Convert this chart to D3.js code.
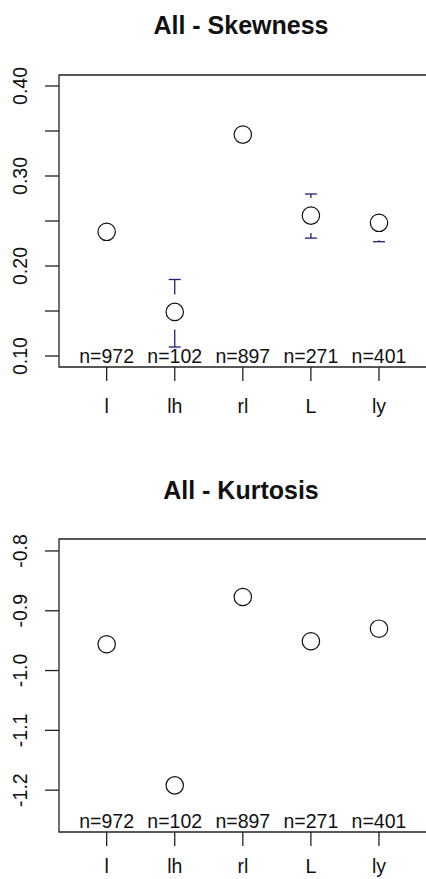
<!DOCTYPE html>
<html>
<head>
<meta charset="utf-8">
<script src="https://cdn.jsdelivr.net/npm/d3@7"></script>
<style>
  html, body { margin: 0; padding: 0; background: #fff; overflow: hidden; }
  svg { display: block; }
  svg text { font-family: "Liberation Sans", Arial, sans-serif; fill: #111; }
</style>
</head>
<body>
<div id="chart"></div>
<script>
// categories and counts shared by both panels
const categories = ["l", "lh", "rl", "L", "ly"];
const counts = ["n=972", "n=102", "n=897", "n=271", "n=401"];

// skewness means and CI
const skewMean = [0.238, 0.149, 0.346, 0.256, 0.248];
const skewLower = [0.236, 0.110, 0.344, 0.231, 0.227];
const skewUpper = [0.240, 0.185, 0.348, 0.280, 0.267];
const skewTicks = [0.10, 0.15, 0.20, 0.25, 0.30, 0.35, 0.40];
const skewLabels = ["0.10", "", "0.20", "", "0.30", "", "0.40"];

// kurtosis means
const kurtMean = [-0.956, -1.192, -0.877, -0.951, -0.930];
const kurtTicks = [-1.2, -1.1, -1.0, -0.9, -0.8];
const kurtLabels = ["-1.2", "-1.1", "-1.0", "-0.9", "-0.8"];

const W = 426, H = 879;
const svg = d3.select("#chart").append("svg")
  .attr("width", W).attr("height", H);

const xScale = d3.scaleLinear().domain([0.3, 5.72]).range([59, 428]);
const gap = 17.5, capW = 6, ciColor = "#1f1f7a";

function panel(opts) {
  const g = svg.append("g");
  const y = d3.scaleLinear().domain(opts.ydom).range([opts.bottom, opts.top]);
  const x0 = xScale.range()[0], x1 = xScale.range()[1];

  // title
  g.append("text")
    .attr("x", 241).attr("y", opts.titleY)
    .attr("text-anchor", "middle")
    .style("font-size", "25px").style("font-weight", "bold")
    .text(opts.title);

  // box (right side falls off the canvas)
  g.append("path")
    .attr("d", `M${x1},${opts.top}H${x0}V${opts.bottom}H${x1}`)
    .attr("fill", "none").attr("stroke", "#222").attr("stroke-width", 1.3);

  // y axis ticks + rotated labels
  opts.ticks.forEach((t, i) => {
    g.append("line")
      .attr("x1", x0 - 14).attr("x2", x0)
      .attr("y1", y(t)).attr("y2", y(t))
      .attr("stroke", "#222").attr("stroke-width", 1.3);
    if (opts.labels[i]) {
      g.append("text")
        .attr("transform", `translate(27,${y(t)}) rotate(-90)`)
        .attr("text-anchor", "middle")
        .style("font-size", "19.5px")
        .text(opts.labels[i]);
    }
  });

  // x axis ticks and labels
  categories.forEach((c, i) => {
    const cx = xScale(i + 1);
    g.append("line")
      .attr("x1", cx).attr("x2", cx)
      .attr("y1", opts.bottom).attr("y2", opts.bottom + 14)
      .attr("stroke", "#222").attr("stroke-width", 1.3);
    g.append("text")
      .attr("x", cx).attr("y", opts.bottom + opts.labOff)
      .attr("text-anchor", "middle")
      .style("font-size", "19.5px")
      .text(c);
    g.append("text")
      .attr("x", cx).attr("y", opts.bottom - 4)
      .attr("text-anchor", "middle")
      .style("font-size", "19.5px")
      .text(counts[i]);
  });

  // error bars, with a gap around the point
  if (opts.lower) {
    opts.mean.forEach((m, i) => {
      const cx = xScale(i + 1);
      const yc = y(m), yl = y(opts.lower[i]), yu = y(opts.upper[i]);
      if (yu < yc - gap) {
        g.append("line").attr("x1", cx).attr("x2", cx)
          .attr("y1", yc - gap).attr("y2", yu)
          .attr("stroke", ciColor).attr("stroke-width", 1.3);
        g.append("line").attr("x1", cx - capW).attr("x2", cx + capW)
          .attr("y1", yu).attr("y2", yu)
          .attr("stroke", ciColor).attr("stroke-width", 1.3);
      }
      if (yl > yc + gap) {
        g.append("line").attr("x1", cx).attr("x2", cx)
          .attr("y1", yc + gap).attr("y2", yl)
          .attr("stroke", ciColor).attr("stroke-width", 1.3);
        g.append("line").attr("x1", cx - capW).attr("x2", cx + capW)
          .attr("y1", yl).attr("y2", yl)
          .attr("stroke", ciColor).attr("stroke-width", 1.3);
      }
    });
  }

  // points
  g.selectAll("circle.pt")
    .data(opts.mean)
    .enter().append("circle")
      .attr("class", "pt")
      .attr("cx", (d, i) => xScale(i + 1))
      .attr("cy", d => y(d))
      .attr("r", 8.7)
      .attr("fill", "none")
      .attr("stroke", "#111")
      .attr("stroke-width", 1.2);
}

panel({
  title: "All - Skewness", titleY: 34,
  top: 75, bottom: 367, ydom: [0.0878, 0.4122],
  ticks: skewTicks, labels: skewLabels, labOff: 46,
  mean: skewMean, lower: skewLower, upper: skewUpper
});

panel({
  title: "All - Kurtosis", titleY: 499,
  top: 539, bottom: 832, ydom: [-1.270, -0.780],
  ticks: kurtTicks, labels: kurtLabels, labOff: 41,
  mean: kurtMean
});
</script>
</body>
</html>
